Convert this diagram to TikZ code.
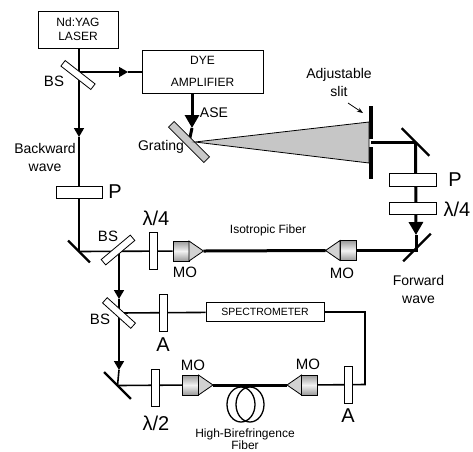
\documentclass[tikz,border=0pt]{standalone}
\usepackage{fontspec}
\setmainfont{Liberation Sans}
\usetikzlibrary{arrows.meta, backgrounds, calc, shapes.geometric}
\definecolor{gratinggray}{RGB}{200, 200, 200}

\begin{document}
\begin{tikzpicture}[
    x=1pt, y=-1pt,
    kotak/.style={draw, line width=0.8pt, fill=white, inner sep=0pt, align=center,
                  font=\fontsize{12}{14}\selectfont},
    plate/.style={draw, line width=0.8pt, fill=white, inner sep=0pt,
                  minimum width=8pt, minimum height=37pt},
    cermin/.style={fill=black, inner sep=0pt, minimum height=2.2pt},
    celah/.style={fill=black, inner sep=0pt, minimum width=4pt},
    lensa/.style={draw, line width=0.9pt, inner sep=0pt, minimum width=16pt,
                  minimum height=20pt, top color=gray!80, bottom color=gray!80,
                  middle color=gray!10},
    kerucut/.style={draw, line width=0.8pt, fill=gray!35},
    gulung/.style={draw, ellipse, line width=1.3pt, inner sep=0pt,
                   minimum width=28pt, minimum height=35pt},
    tipis/.style={line width=1.6pt},
    tebal/.style={line width=3pt},
    panah/.style={-{Triangle[length=9pt, width=10pt]}},
    panahbesar/.style={-{Triangle[length=13pt, width=14pt]}},
    besar/.style={font=\fontsize{20}{22}\selectfont},
    sedang/.style={font=\fontsize{15}{17}\selectfont},
    ket/.style={align=center, font=\fontsize{14}{18}\selectfont},
    kecil/.style={align=center, font=\fontsize{12}{11.5}\selectfont}
  ]
    \useasboundingbox (0,0) rectangle (473,451);
    % sumber dan kotak
    \node[kotak, minimum width=80pt, minimum height=37pt] (laser) at (78,29.5)
      {Nd:YAG\\LASER};
    \node[kotak, minimum width=121pt, minimum height=43pt, font=\fontsize{12}{22}\selectfont]
      (dye) at (202.5,71.5) {DYE\\AMPLIFIER};
    \node[kotak, minimum width=118pt, minimum height=19pt, font=\fontsize{10.5}{12}\selectfont]
      (spectro) at (265,312) {SPECTROMETER};
    % pemisah berkas, kisi
    \node[plate, minimum width=38pt, minimum height=7pt, rotate=-38] (bsa) at (78,75) {};
    \node[plate, minimum width=38pt, minimum height=7pt, rotate=40]  (bsb) at (118,250) {};
    \node[plate, minimum width=38pt, minimum height=7pt, rotate=-42] (bsc) at (119,313) {};
    \node[plate, minimum width=50pt, minimum height=8pt, rotate=-45, fill=gratinggray]
      (grating) at (189,142) {};
    % keping
    \node[plate, minimum width=46pt, minimum height=12pt] (pa) at (79,192) {};
    \node[plate, minimum width=47pt, minimum height=13pt] (pb) at (412.5,179.5) {};
    \node[plate, minimum width=47pt, minimum height=12pt] (qa) at (412.5,208) {};
    \node[plate] (qb) at (153,250.5) {};
    \node[plate] (aa) at (163,313) {};
    \node[plate] (ab) at (348.5,384.5) {};
    \node[plate] (ha) at (155,387.5) {};
    % cermin
    \node[cermin, minimum width=31pt, rotate=-45] (cermina) at (79,251.5) {};
    \node[cermin, minimum width=39pt, rotate=-45] (cerminb) at (415.5,142) {};
    \node[cermin, minimum width=39pt, rotate=45]  (cerminc) at (417,247.5) {};
    \node[cermin, minimum width=38pt, rotate=-45] (cermind) at (117.5,385.5) {};
    % celah
    \node[celah, minimum height=33pt] (celaha) at (371,122.5) {};
    \node[celah, minimum height=32pt] (celahb) at (371,163) {};
    \coordinate (celahm) at (371,142);
    % lensa MO
    \foreach \nama/\x/\y/\arah in {moa/181/251/1, mob/348/250.5/-1, moc/190.5/385/1, mod/309.5/385/-1} {
      \node[lensa] (\nama) at (\x,\y) {};
      \coordinate (\nama ujung) at ($(\nama)+(\arah*22.5,0)$);
      \draw[kerucut] ($(\nama)+(\arah*8,-10)$) -- (\nama ujung) -- ($(\nama)+(\arah*8,10)$) -- cycle;
    }
    % serat
    \node[gulung] (gulunga) at (241,404.5) {};
    \node[gulung] (gulungb) at (250,404.5) {};
    % titik bantu
    \coordinate (tipa) at (79,137);
    \coordinate (tipb) at (128,72);
    \coordinate (tipc) at (192,128);
    \coordinate (tipd) at (416,235);
    \coordinate (tipe) at (119,299);
    \coordinate (tipf) at (119,370);
    \coordinate (siku) at (365,384.5);
    \begin{scope}[on background layer]
      \draw[tipis, panah] (laser.south -| cermina) -- (tipa);
      \draw[tipis] (tipa) -- (cermina.center);
      \draw[tipis, panah] (bsa.center |- tipb) -- (tipb);
      \draw[tipis] (tipb) -- (tipb -| dye.west);
      \draw[tebal, panahbesar] (dye.south -| tipc) -- (tipc);
      \draw[tebal] (tipc) -- (grating.center);
      \draw[tipis] (cermina.center) -- (moa);
      \draw[tipis, panah] (bsb.center -| tipe) -- (tipe);
      \draw[tipis, panah] (tipe) -- (tipf);
      \draw[tipis] (tipf) -- (cermind.center);
      \draw[tipis] (bsc.center) -- (spectro);
      \draw[tipis] (spectro.east) -| (siku) -- (mod);
      \draw[tipis] (cermind.center) -- (moc);
      \draw[tebal] (celahm) -- (cerminb.center);
      \draw[tebal, panahbesar] (cerminb.center) -- (tipd);
      \draw[tebal] (tipd) -- (tipd |- mob) -- (mob);
    \end{scope}
    \draw[tebal] (moaujung) -- (mobujung);
    \draw[tebal] (mocujung) -- (modujung);
    % berkas ASE
    \coordinate (puncak) at (195,142);
    \coordinate (atas) at (369,122);
    \coordinate (bawah) at (369,163);
    \draw[line width=0.8pt, fill=gray!45] (puncak) -- (atas) -- (bawah) -- cycle;
    \coordinate (panahslit) at (363,113);
    \coordinate (ekorslit) at (348,103);
    \draw[line width=0.7pt, -{Stealth[length=6pt]}] (ekorslit) -- (panahslit);
    % label
    \node[sedang] (lbsa) at (54,81) {BS};
    \node[sedang] (lbsb) at (108,236) {BS};
    \node[sedang] (lbsc) at (100,319) {BS};
    \node[ket] (lback) at (45,157.5) {Backward\\wave};
    \node[ket] (lase) at (214,113) {ASE};
    \node[ket] (lgrat) at (161,147) {Grating};
    \node[ket] (lslit) at (339,82.5) {Adjustable\\slit};
    \node[ket] (lforw) at (418.5,289.5) {Forward\\wave};
    \node[besar] (lpa) at (115,192) {P};
    \node[besar] (lpb) at (455,180) {P};
    \node[besar] (lqa) at (457,209) {λ/4};
    \node[besar] (lqb) at (156,218) {λ/4};
    \node[besar] (lha) at (156,423) {λ/2};
    \node[besar] (laa) at (163,345) {A};
    \node[besar] (lab) at (348,416) {A};
    \node[sedang] (lmoa) at (185,272) {MO};
    \node[sedang] (lmob) at (342,273) {MO};
    \node[sedang] (lmoc) at (193,365) {MO};
    \node[sedang] (lmod) at (308,364) {MO};
    \node[kecil] (liso) at (268,230) {Isotropic Fiber};
    \node[kecil, inner sep=0pt] (lhbf) at (245,439) {High-Birefringence\\Fiber};
  \end{tikzpicture}
\end{document}
